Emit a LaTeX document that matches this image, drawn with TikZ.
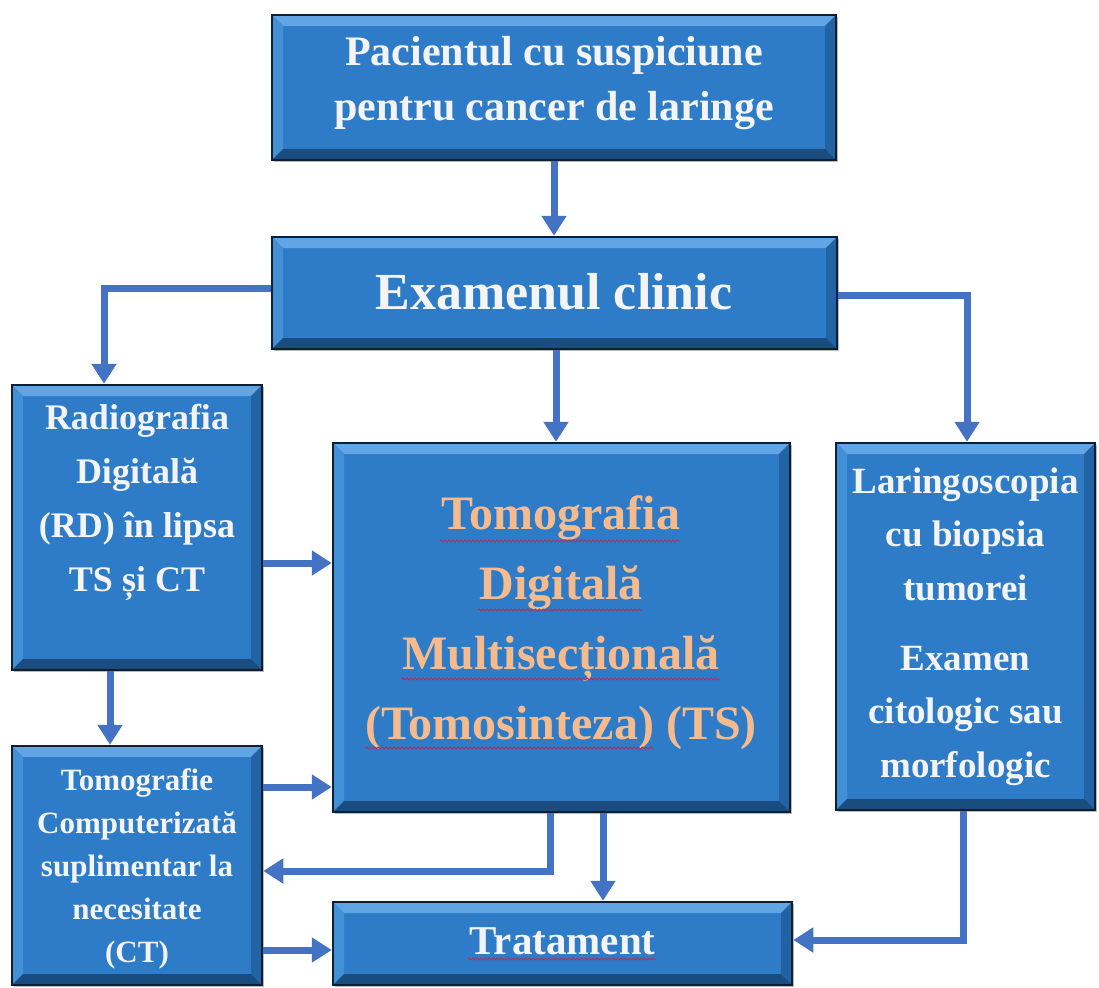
\documentclass[tikz,border=0pt]{standalone}
\usepackage{fontspec}
\setmainfont{Liberation Serif}
\usetikzlibrary{arrows.meta,shadows,decorations.pathmorphing}
\definecolor{boxblue}{HTML}{2E7CC8}
\definecolor{boxedge}{HTML}{0E1F33}
\definecolor{bevtop}{HTML}{62A5E4}
\definecolor{bevleft}{HTML}{4290D6}
\definecolor{bevright}{HTML}{2263A3}
\definecolor{bevbot}{HTML}{1A4C80}
\definecolor{arrowblue}{HTML}{4472C4}
\definecolor{txtwhite}{HTML}{F4F4F4}
\definecolor{txtorange}{HTML}{F6BB8C}
\definecolor{squig}{HTML}{B0305A}
\tikzset{
  bevel/.style={path picture={
    \path (path picture bounding box.north west) coordinate (bnw)
          (path picture bounding box.south east) coordinate (bse)
          (path picture bounding box.north east) coordinate (bne)
          (path picture bounding box.south west) coordinate (bsw);
    \fill[bevtop] (bnw) -- (bne) -- ([shift={(-11pt,-11pt)}]bne) -- ([shift={(11pt,-11pt)}]bnw) -- cycle;
    \fill[bevleft] (bnw) -- (bsw) -- ([shift={(11pt,11pt)}]bsw) -- ([shift={(11pt,-11pt)}]bnw) -- cycle;
    \fill[bevright] (bne) -- (bse) -- ([shift={(-11pt,11pt)}]bse) -- ([shift={(-11pt,-11pt)}]bne) -- cycle;
    \fill[bevbot] (bsw) -- (bse) -- ([shift={(-11pt,11pt)}]bse) -- ([shift={(11pt,11pt)}]bsw) -- cycle;
  }},
  box/.style={rectangle, draw=boxedge, line width=2.5pt, fill=boxblue, bevel,
    inner sep=0pt, drop shadow={opacity=0.55, shadow xshift=2pt, shadow yshift=-2pt}},
  txt/.style={text=txtwhite, font=\bfseries, align=center, inner sep=0pt},
  arr/.style={draw=arrowblue, line width=7pt, -{Triangle[width=24pt,length=20pt]}},
  wavy/.style={draw=squig, line width=1pt, decorate,
    decoration={snake, amplitude=1pt, segment length=4pt}}
}
\begin{document}
\begin{tikzpicture}[x=1pt,y=-1pt]
\useasboundingbox (0,0) rectangle (1099,987);
% boxes
\node[box, minimum width=564pt, minimum height=145pt] (p1) at (554,87.5) {};
\node[box, minimum width=565pt, minimum height=112pt] (ex) at (554.5,293) {};
\node[box, minimum width=250pt, minimum height=285pt] (rd) at (137,527.5) {};
\node[box, minimum width=457pt, minimum height=369pt] (ts) at (561.5,627.5) {};
\node[box, minimum width=259pt, minimum height=367pt] (lar) at (965.5,626.5) {};
\node[box, minimum width=250pt, minimum height=239pt] (ct) at (137,865.5) {};
\node[box, minimum width=459pt, minimum height=83pt] (tr) at (562.5,943.5) {};
% texts
\node[txt, font=\bfseries\fontsize{42}{55}\selectfont] (p1t) at (554,83)
  {Pacientul cu suspiciune\\pentru cancer de laringe};
\node[txt, font=\bfseries\fontsize{52}{60}\selectfont] (ext) at (554,292) {Examenul clinic};
\node[txt, font=\bfseries\fontsize{36}{54}\selectfont] (rdt) at (137,502)
  {Radiografia\\Digitală\\(RD) în lipsa\\TS și CT};
\node[txt, text=txtorange, font=\bfseries\fontsize{48}{70}\selectfont] (tst) at (561,623)
  {Tomografia\\Digitală\\Multisecțională\\(Tomosinteza) (TS)};
\node[txt, font=\bfseries\fontsize{37}{53.5}\selectfont] (lart) at (965.5,626.5)
  {Laringoscopia\\cu biopsia\\tumorei\\[16.5pt]Examen\\citologic sau\\morfologic};
\node[txt, font=\bfseries\fontsize{31}{43}\selectfont] (ctt) at (137,869)
  {Tomografie\\Computerizată\\suplimentar la\\necesitate\\(CT)};
\node[txt, font=\bfseries\fontsize{41}{50}\selectfont] (trt) at (562.5,941) {Tratament};
% spell-check squiggles
\draw[wavy] (440,541) -- (680,541);
\draw[wavy] (478,610) -- (642,610);
\draw[wavy] (402,679) -- (720,679);
\draw[wavy] (365,748) -- (653,748);
\draw[wavy] (468,959) -- (656,959);
% connectors
\draw[arr] (p1.south) -- (p1.south |- ex.north);
\draw[arr] ([yshift=5pt]ex.west) -| ([xshift=-33pt]rd.north);
\draw[arr] ([yshift=-2pt]ex.east) -| ([xshift=1.5pt]lar.north);
\draw[arr] ([xshift=1.5pt]ex.south) -- ([xshift=1.5pt]ex.south |- ts.north);
\draw[arr] ([yshift=-35.5pt]rd.east) -- ([yshift=-35.5pt]rd.east -| ts.west);
\draw[arr] ([xshift=-27pt]rd.south) -- ([xshift=-27pt]rd.south |- ct.north);
\draw[arr] ([yshift=78.5pt]ct.east) -- ([yshift=78.5pt]ct.east -| ts.west);
\draw[arr] ([xshift=-11.5pt]ts.south) |- ([yshift=-5.5pt]ct.east);
\draw[arr] ([yshift=-84.5pt]ct.east) -- ([yshift=-84.5pt]ct.east -| tr.west);
\draw[arr] ([xshift=41.5pt]ts.south) -- ([xshift=41.5pt]ts.south |- tr.north);
\draw[arr] ([xshift=-2.5pt]lar.south) |- ([yshift=3.5pt]tr.east);
\end{tikzpicture}
\end{document}
